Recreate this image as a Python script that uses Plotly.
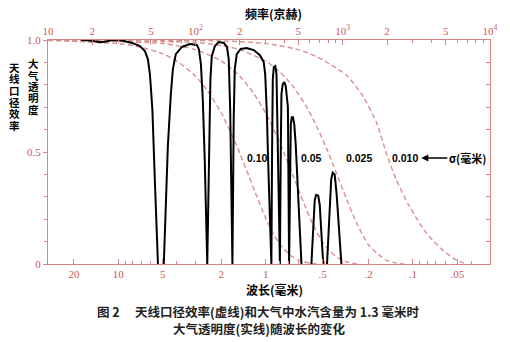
import plotly.graph_objects as go

# ---------------- data ----------------
# atmospheric transmission (solid), wavelength in mm; None breaks the line
trans_lam = [17.9, 15.6, 13.3, 12.1, 11.0, 9.44, 8.08, 7.13, 6.60, 6.30, 6.10, 5.87, 5.65, 5.38, None,
             4.91, 4.61, 4.40, 4.26, 4.07, 3.70, 3.27, 2.93, 2.84, 2.75, 2.67, 2.59, 2.49,
             2.41, 2.37, 2.32, 2.21, 2.08, 1.92, 1.83, 1.78, 1.74, 1.71, 1.68,
             1.647, 1.62, 1.57, 1.476, 1.344, 1.205, 1.097, 1.03, 1.007, 0.983, 0.953, 0.914,
             0.904, 0.894, 0.880, 0.860, 0.844, 0.834, 0.821, 0.800,
             0.789, 0.781, 0.765, 0.747, 0.730, 0.719, 0.712, 0.706, 0.700, 0.693,
             0.675, 0.665, 0.652, 0.639, 0.625, 0.606, 0.587, 0.571, None,
             0.489, 0.475, 0.464, 0.4535, 0.4396, 0.4294, 0.4163, 0.4066, None,
             0.3831, 0.3702, 0.3589, 0.3506, 0.3398, 0.3294, 0.3168, 0.306]
trans_val = [1.0, 0.998, 0.99, 0.993, 1.0, 0.998, 0.987, 0.973, 0.951, 0.915, 0.848, 0.69, 0.377, 0.0, None,
             0.0, 0.525, 0.758, 0.87, 0.937, 0.969, 0.982, 0.978, 0.96, 0.892, 0.735, 0.466, 0.0,
             0.511, 0.825, 0.928, 0.973, 0.991, 0.987, 0.969, 0.915, 0.69, 0.377, 0.0,
             0.646, 0.87, 0.937, 0.96, 0.964, 0.955, 0.933, 0.901, 0.848, 0.69, 0.377, 0.0,
             0.511, 0.825, 0.879, 0.883, 0.848, 0.646, 0.332, 0.0,
             0.511, 0.758, 0.803, 0.812, 0.794, 0.735, 0.713, 0.70, 0.377, 0.0,
             0.623, 0.655, 0.655, 0.623, 0.534, 0.332, 0.161, 0.0, None,
             0.0, 0.175, 0.287, 0.309, 0.305, 0.265, 0.130, 0.0, None,
             0.0, 0.197, 0.377, 0.408, 0.40, 0.309, 0.130, 0.0]

# antenna aperture efficiency (dashed) for surface rms sigma (mm)
eff10_lam = [30, 10, 7.5, 5, 4, 3, 2.5, 2.0, 1.7, 1.5, 1.3, 1.15, 1.0, 0.88, 0.77, 0.67, 0.58, 0.5, 0.45]
eff10_val = [0.998, 0.984, 0.972, 0.939, 0.906, 0.839, 0.777, 0.674, 0.578, 0.496, 0.393, 0.303, 0.206,
             0.13, 0.075, 0.036, 0.014, 0.004, 0.0]
eff05_lam = [30, 5, 3, 2, 1.5, 1.2, 1.0, 0.85, 0.75, 0.65, 0.55, 0.48, 0.42, 0.37, 0.32, 0.28, 0.25, 0.23]
eff05_val = [1.0, 0.984, 0.957, 0.906, 0.839, 0.76, 0.674, 0.579, 0.496, 0.393, 0.271, 0.18, 0.107,
             0.06, 0.026, 0.009, 0.002, 0.0]
eff025_lam = [30, 3, 2, 1.5, 1.0, 0.8, 0.65, 0.53, 0.45, 0.38, 0.33, 0.28, 0.24, 0.2, 0.17, 0.15, 0.13, 0.115]
eff025_val = [1.0, 0.989, 0.976, 0.957, 0.906, 0.857, 0.792, 0.704, 0.614, 0.505, 0.404, 0.284, 0.18,
              0.085, 0.04, 0.016, 0.004, 0.0]
eff010_lam = [30, 2, 1.0, 0.6, 0.45, 0.367, 0.283, 0.219, 0.177, 0.152, 0.130, 0.1055, 0.0813, 0.063,
              0.0508, 0.045]
eff010_val = [1.0, 0.996, 0.984, 0.957, 0.925, 0.892, 0.843, 0.75, 0.632, 0.498, 0.377, 0.257, 0.139,
              0.063, 0.018, 0.004]

sigma_labels = ["0.10", "0.05", "0.025", "0.010"]

# axis ticks
wl_tickvals = [20, 10, 5, 2, 1, 0.41, 0.2, 0.1, 0.05]
wl_ticktext = ["20", "10", "5", "2", "1", ".5", ".2", ".1", ".05"]
wl_minor = [9, 8, 7, 6, 4, 3, 0.9, 0.8, 0.7, 0.6, 0.4, 0.3, 0.09, 0.08, 0.07, 0.06, 0.04]
fr_tickvals = [10, 20, 50, 100, 200, 500, 1000, 2000, 5000, 10000]
fr_ticktext = ["10", "2", "5", "10<sup>2</sup>", "2", "5", "10<sup>3</sup>", "2", "5", "10<sup>4</sup>"]
fr_minor = [30, 40, 60, 70, 80, 90, 300, 400, 600, 700, 800, 900, 3000, 4000, 6000, 7000, 8000, 9000]
y_tickvals = [0, 0.5, 1.0]
y_ticktext = ["0", "0.5", "1.0"]
y_minor = [0.1, 0.2, 0.3, 0.4, 0.6, 0.7, 0.8, 0.9]

# ---------------- styling ----------------
FRAME = "#d98585"
LABEL = "#c9585a"
DASH = "#d89090"
W, H = 510, 342
L, R, T, B = 48, 18, 40, 78
PW, PH = W - L - R, H - T - B


def px(x):
    return (x - L) / PW


def py(y):
    return (H - B - y) / PH


fig = go.Figure()

for lam, val in [(eff10_lam, eff10_val), (eff05_lam, eff05_val),
                 (eff025_lam, eff025_val), (eff010_lam, eff010_val)]:
    fig.add_trace(go.Scatter(x=lam, y=val, mode="lines",
                             line=dict(color=DASH, width=1.4, dash="5px,3px", shape="spline", smoothing=0.7),
                             hoverinfo="skip", showlegend=False))

fig.add_trace(go.Scatter(x=trans_lam, y=trans_val, mode="lines", connectgaps=False,
                         line=dict(color="black", width=2.0), showlegend=False))

# invisible traces to activate the top frequency axis and right axis
fig.add_trace(go.Scatter(x=[10, 10000], y=[None, None], xaxis="x2", yaxis="y", mode="lines",
                         showlegend=False, hoverinfo="skip"))
fig.add_trace(go.Scatter(x=[30, 0.03], y=[None, None], xaxis="x", yaxis="y2", mode="lines",
                         showlegend=False, hoverinfo="skip"))

tickfont = dict(family="Liberation Serif, DejaVu Serif, serif", size=11, color=LABEL)

fig.update_layout(
    width=W, height=H, margin=dict(l=L, r=R, t=T, b=B),
    paper_bgcolor="white", plot_bgcolor="white",
    xaxis=dict(type="log", range=[1.4771, -1.5229], showgrid=False, zeroline=False,
               showline=True, linecolor=FRAME, linewidth=1.2,
               tickmode="array", tickvals=wl_tickvals, ticktext=wl_ticktext,
               ticks="inside", ticklen=5, tickcolor=FRAME, tickfont=tickfont,
               minor=dict(tickmode="array", tickvals=wl_minor, ticks="inside", ticklen=3, tickcolor=FRAME)),
    xaxis2=dict(type="log", range=[1, 4], overlaying="x", side="top", anchor="y",
                showgrid=False, zeroline=False, showline=True, linecolor=FRAME, linewidth=1.2,
                tickmode="array", tickvals=fr_tickvals, ticktext=fr_ticktext,
                ticks="inside", ticklen=5, tickcolor=FRAME, tickfont=tickfont,
                minor=dict(tickmode="array", tickvals=fr_minor, ticks="inside", ticklen=3, tickcolor=FRAME)),
    yaxis=dict(range=[0, 1], showgrid=False, zeroline=False, showline=True, linecolor=FRAME, linewidth=1.2,
               tickmode="array", tickvals=y_tickvals, ticktext=y_ticktext,
               ticks="outside", ticklen=4, tickcolor=FRAME, tickfont=tickfont,
               minor=dict(tickmode="array", tickvals=y_minor, ticks="outside", ticklen=3, tickcolor=FRAME)),
    yaxis2=dict(range=[0, 1], overlaying="y", side="right", anchor="x", showgrid=False, zeroline=False,
                showline=True, linecolor=FRAME, linewidth=1.2, showticklabels=False,
                tickmode="array", tickvals=y_minor, ticks="inside", ticklen=4, tickcolor=FRAME),
)

cjk_bold = "Noto Sans CJK SC"


def note(text, x, y, size, family=cjk_bold, color="black", **kw):
    d = dict(text=text, x=px(x), y=py(y), xref="paper", yref="paper", xanchor="center", yanchor="middle",
             showarrow=False, font=dict(family=family, size=size, color=color))
    d.update(kw)
    return d


ann = []
ann.append(note("<b>频率(京赫)</b>", 275, 13, 12))
ann.append(note("<b>波长(毫米)</b>", 276, 289, 12))
ann.append(note("<b>图 2　 天线口径效率(虚线)和大气中水汽含量为 1.3 毫米时</b>", 259, 311, 12.5, color="#222"))
ann.append(note("<b>大气透明度(实线)随波长的变化</b>", 260, 328, 12.5, color="#222"))
for i, ch in enumerate("大气透明度"):
    ann.append(note("<b>" + ch + "</b>", 33, 64 + i * 11.3, 10.5, borderpad=0))
for i, ch in enumerate("天线口径效率"):
    ann.append(note("<b>" + ch + "</b>", 14, 67 + i * 11.7, 10.5, borderpad=0))
for lab, cx in zip(sigma_labels, [258, 313, 360, 407]):
    ann.append(note("<b>" + lab + "</b>", cx, 158, 10.5, family="Liberation Sans, Arial"))
ann.append(note("<b>σ(毫米)</b>", 423, 158, 11, showarrow=True, ax=46, ay=0, arrowhead=2, arrowsize=1,
                arrowwidth=1.4, arrowcolor="black"))
fig.update_layout(annotations=ann)

fig.write_html("out.html")
